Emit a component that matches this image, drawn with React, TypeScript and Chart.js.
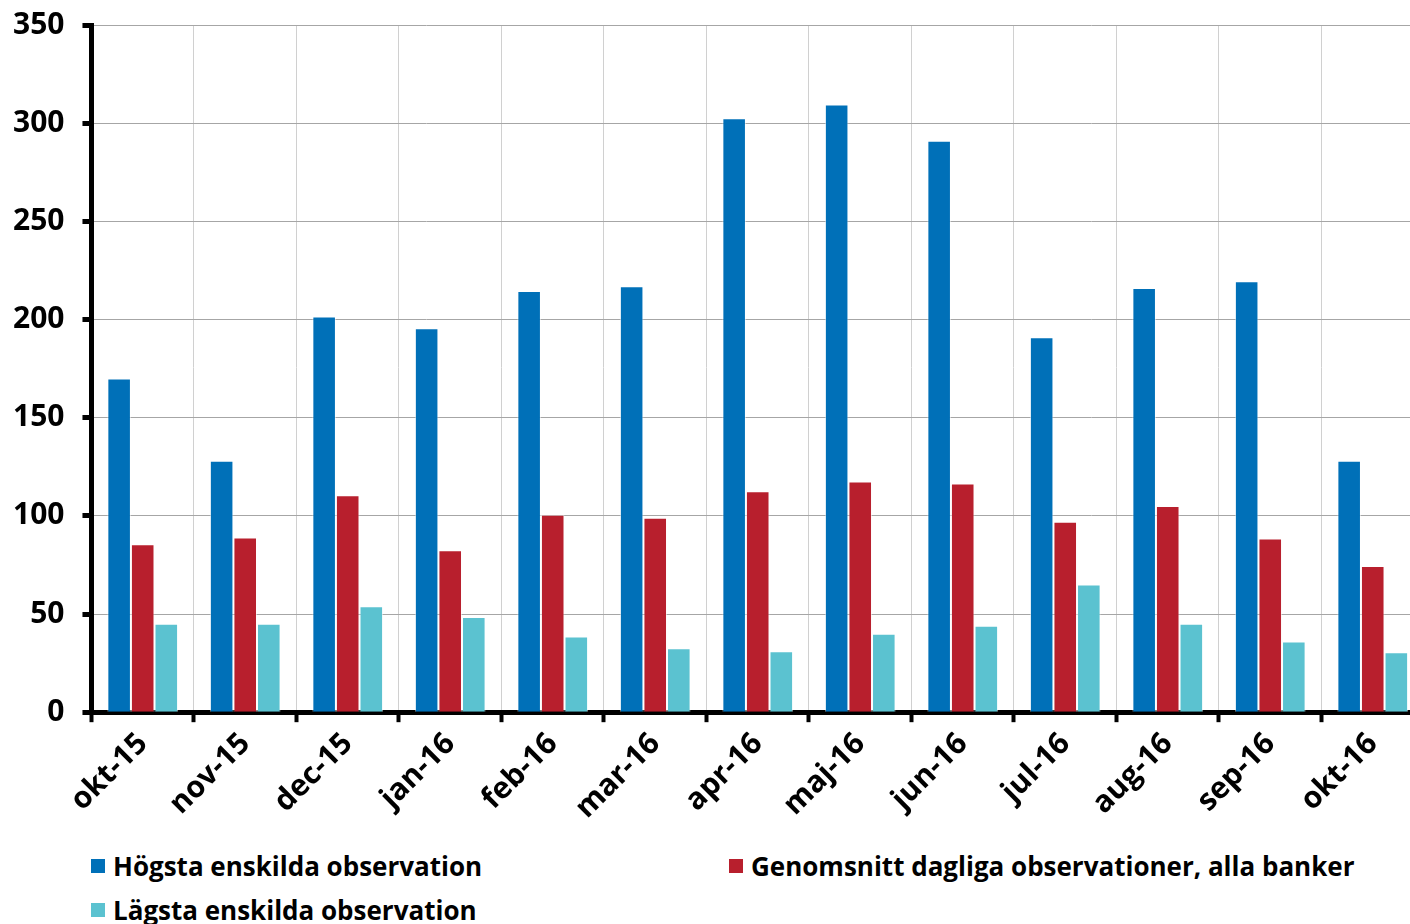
import React, { useEffect, useRef } from "react";
import { Chart, registerables } from "chart.js";

Chart.register(...registerables);

const categories = ["okt-15", "nov-15", "dec-15", "jan-16", "feb-16", "mar-16", "apr-16", "maj-16", "jun-16", "jul-16", "aug-16", "sep-16", "okt-16"];
const highest = [170, 128, 201.5, 195.5, 214.5, 217, 302.5, 309.5, 291, 191, 216, 219.5, 128];
const average = [85.5, 89, 110.5, 82.5, 100.5, 99, 112.5, 117.5, 116.5, 97, 105, 88.5, 74.5];
const lowest = [45, 45, 54, 48.5, 38.5, 32.5, 31, 40, 44, 65, 45, 36, 30.5];
const seriesLabels = ["Högsta enskilda observation", "Genomsnitt dagliga observationer, alla banker", "Lägsta enskilda observation"];
const colors = ["#0070B8", "#B81F2D", "#5BC2D0"];
const yTicks = [0, 50, 100, 150, 200, 250, 300, 350];

const FONT = "'Open Sans', 'Noto Sans', sans-serif";

export default function App() {
  const ref = useRef<HTMLCanvasElement | null>(null);
  useEffect(() => {
    if (!ref.current) return;
    const chart = new Chart(ref.current, {
      type: "bar",
      data: {
        labels: categories,
        datasets: [highest, average, lowest].map((d, i) => ({
          label: seriesLabels[i],
          data: d,
          backgroundColor: colors[i],
          borderColor: "rgba(255,255,255,0.55)",
          borderWidth: 1,
          barPercentage: 1,
          categoryPercentage: 0.69,
        })),
      },
      options: {
        responsive: false,
        animation: false,
        layout: { padding: { top: 0, right: 0, left: -5, bottom: 0 } },
        plugins: { legend: { display: false }, tooltip: { enabled: false } },
        scales: {
          x: {
            grid: { color: "#d0d0d0", lineWidth: 1, offset: true, tickColor: "#000", tickWidth: 4, tickLength: 10 },
            border: { color: "#000", width: 5 },
            ticks: { color: "#000", font: { family: FONT, size: 30, weight: "bold" }, maxRotation: 45, minRotation: 45, padding: 4, autoSkip: false },
          },
          y: {
            min: 0,
            max: 350,
            afterBuildTicks: (axis: any) => { axis.ticks = yTicks.map((v) => ({ value: v })); },
            grid: { color: "#a6a6a6", lineWidth: 1, tickColor: "#000", tickWidth: 5, tickLength: 9 },
            border: { color: "#000", width: 5 },
            ticks: { color: "#000", font: { family: FONT, size: 30, weight: "bold" }, padding: 18 },
          },
        },
      },
    });
    return () => chart.destroy();
  }, []);

  const legendItem = (i: number, left: number, top: number) => (
    <div key={i} style={{ position: "absolute", left, top, display: "flex", alignItems: "center", fontFamily: FONT, fontWeight: 700, fontSize: 26, color: "#000", whiteSpace: "nowrap" }}>
      <span style={{ display: "inline-block", width: 14, height: 14, background: colors[i], marginRight: 8 }} />
      <span>{seriesLabels[i]}</span>
    </div>
  );

  return (
    <div style={{ position: "fixed", left: 0, top: 0, width: 1410, height: 924, overflow: "hidden", background: "#fff" }}>
      <canvas ref={ref} width={1424} height={841} style={{ position: "absolute", left: 0, top: -11 }} />
      {legendItem(0, 91, 848)}
      {legendItem(1, 729, 848)}
      {legendItem(2, 91, 892)}
    </div>
  );
}
